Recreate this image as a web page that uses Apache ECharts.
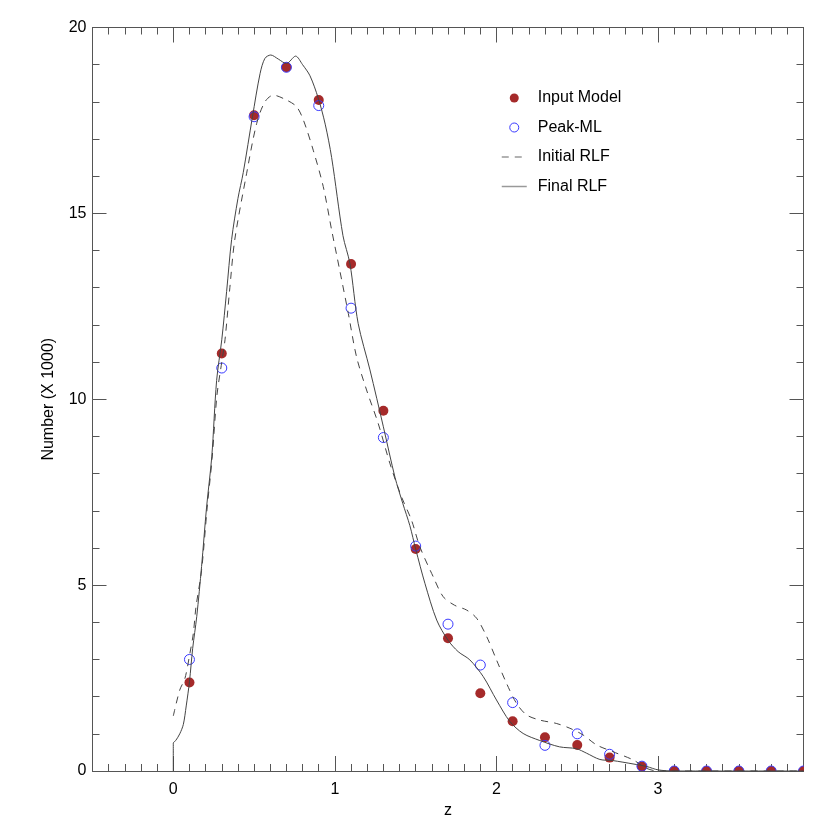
<!DOCTYPE html>
<html>
<head>
<meta charset="utf-8">
<script src="https://cdn.jsdelivr.net/npm/echarts@6/dist/echarts.min.js"></script>
<style>
  html, body { margin: 0; padding: 0; background: #fff; }
  #main { width: 830px; height: 830px; }
</style>
</head>
<body>
<div id="main"></div>
<script>
    var myChart = echarts.init(document.getElementById('main'));

    // redshift bins of the points
    var zBins = [0.1, 0.3, 0.5, 0.7, 0.9, 1.1, 1.3, 1.5, 1.7, 1.9, 2.1, 2.3, 2.5, 2.7, 2.9, 3.1, 3.3, 3.5, 3.7, 3.9];

    // Input Model (filled dots)
    var inputModel = [2.38, 11.23, 17.64, 18.93, 18.05, 13.64, 9.69, 5.97, 3.57, 2.09, 1.34, 0.91, 0.70, 0.36, 0.12, 0, 0, 0, 0, 0];

    // Peak-ML (open circles)
    var peakML = [3.0, 10.84, 17.6, 18.93, 17.9, 12.45, 8.97, 6.05, 3.95, 2.85, 1.84, 0.69, 1.0, 0.45, 0.13, 0, 0, 0, 0, 0];

    // Initial RLF (dashed)
    var initialRlf = [
        [0, 1.48], [0.04, 2.18], [0.072, 2.49], [0.103, 3.17], [0.124, 3.7], [0.14, 4.4],
        [0.175, 5.4], [0.21, 7.1], [0.24, 8.4], [0.27, 10.1], [0.3, 11.0], [0.32, 11.6],
        [0.35, 13.0], [0.38, 14.28], [0.454, 16.08], [0.516, 17.42], [0.567, 18.0],
        [0.619, 18.18], [0.70, 18.05], [0.763, 17.87], [0.805, 17.51], [0.866, 16.70],
        [0.928, 15.72], [0.98, 14.55], [1.03, 13.47], [1.083, 12.31], [1.134, 11.14],
        [1.196, 10.25], [1.268, 9.35], [1.34, 8.28], [1.41, 7.4], [1.474, 6.75],
        [1.526, 6.03], [1.608, 5.23], [1.67, 4.69], [1.74, 4.46], [1.815, 4.33],
        [1.877, 4.11], [1.94, 3.61], [2.0, 2.99], [2.062, 2.36], [2.124, 1.82],
        [2.186, 1.51], [2.268, 1.37], [2.37, 1.28], [2.454, 1.15], [2.536, 0.97],
        [2.62, 0.70], [2.72, 0.52], [2.845, 0.30], [2.93, 0.07], [3.0, 0], [3.9, 0]
    ];

    // Final RLF (solid)
    var finalRlf = [
        [0, 0], [0, 0.75], [0.015, 0.82], [0.04, 1.0], [0.062, 1.25], [0.08, 1.75],
        [0.1, 2.4], [0.12, 3.3], [0.145, 4.15], [0.175, 5.5], [0.206, 7.1], [0.238, 8.45],
        [0.268, 10.5], [0.3, 11.6], [0.33, 12.9], [0.361, 14.3], [0.40, 15.4], [0.433, 16.1],
        [0.49, 17.6], [0.537, 18.76], [0.567, 19.17], [0.603, 19.26], [0.65, 19.15],
        [0.70, 19.03], [0.757, 19.23], [0.80, 19.0], [0.846, 18.7], [0.897, 18.1],
        [0.94, 17.4], [0.98, 16.5], [1.05, 14.4], [1.093, 13.65], [1.144, 12.04],
        [1.217, 10.79], [1.30, 9.26], [1.372, 7.9], [1.42, 7.2], [1.464, 6.6],
        [1.5, 5.97], [1.557, 5.05], [1.63, 4.06], [1.70, 3.52], [1.763, 3.21],
        [1.835, 2.99], [1.918, 2.54], [2.0, 1.91], [2.083, 1.33], [2.165, 1.01],
        [2.268, 0.82], [2.39, 0.65], [2.495, 0.60], [2.557, 0.48], [2.64, 0.31],
        [2.72, 0.28], [2.845, 0.19], [2.93, 0.12], [3.0, 0.03], [3.1, 0], [3.9, 0]
    ];

    // tick marks
    var xMajorTicks = [0, 1, 2, 3];

    var FONT = 'Liberation Sans';
    var AXIS_COLOR = '#555';

    function pairs(values) {
        return zBins.map(function (z, i) { return [z, values[i]]; });
    }

    // point marker drawn by custom series so it gets clipped at the frame
    function dotRenderer(fill, stroke) {
        return function (params, api) {
            var p = api.coord([api.value(0), api.value(1)]);
            return {
                type: 'circle',
                shape: { cx: p[0], cy: p[1], r: 5 },
                style: { fill: fill, stroke: stroke, lineWidth: 1 }
            };
        };
    }

    function xAxisDef(pos, major) {
        return {
            type: 'value',
            position: pos,
            min: -0.5,
            max: 3.9,
            interval: major ? undefined : 0.1,
            axisLine: { show: major, onZero: false, lineStyle: { color: AXIS_COLOR, width: 1 } },
            axisTick: major
                ? { show: true, inside: true, length: 15, customValues: xMajorTicks, lineStyle: { color: AXIS_COLOR } }
                : { show: true, inside: true, length: 7, lineStyle: { color: AXIS_COLOR } },
            axisLabel: (major && pos === 'bottom')
                ? { show: true, customValues: xMajorTicks, margin: 11, color: '#000', fontSize: 16, fontFamily: FONT }
                : { show: false },
            splitLine: { show: false },
            name: (major && pos === 'bottom') ? 'z' : '',
            nameLocation: 'middle',
            nameGap: 29,
            nameTextStyle: { color: '#000', fontSize: 16, fontFamily: FONT }
        };
    }

    function yAxisDef(pos) {
        return {
            type: 'value',
            position: pos,
            min: 0,
            max: 20,
            interval: 5,
            axisLine: { show: true, onZero: false, lineStyle: { color: AXIS_COLOR, width: 1 } },
            axisTick: { show: true, inside: true, length: 14, lineStyle: { color: AXIS_COLOR } },
            minorTick: { show: true, splitNumber: 5, length: 7, lineStyle: { color: AXIS_COLOR } },
            axisLabel: pos === 'left'
                ? { show: true, margin: 6, color: '#000', fontSize: 16, fontFamily: FONT }
                : { show: false },
            splitLine: { show: false },
            minorSplitLine: { show: false },
            name: pos === 'left' ? 'Number (X 1000)' : '',
            nameLocation: 'middle',
            nameGap: 36,
            nameTextStyle: { color: '#000', fontSize: 16, fontFamily: FONT }
        };
    }

    var option = {
        backgroundColor: '#fff',
        animation: false,
        grid: { left: 92.5, right: 26.5, top: 27.5, bottom: 59 },
        legend: {
            orient: 'vertical',
            left: 496,
            top: 84,
            itemWidth: 25,
            itemHeight: 9,
            itemGap: 11.5,
            textStyle: { color: '#000', fontSize: 16, fontFamily: FONT, lineHeight: 18, padding: [0, 0, 0, 6] },
            data: [
                { name: 'Input Model', icon: 'circle', itemStyle: { color: '#a52a2a' } },
                { name: 'Peak-ML', icon: 'circle', itemStyle: { color: '#fff', borderColor: '#3a3aff', borderWidth: 1 } },
                { name: 'Initial RLF', itemStyle: { opacity: 0 }, lineStyle: { color: '#999', width: 1.5 } },
                { name: 'Final RLF', itemStyle: { opacity: 0 }, lineStyle: { color: '#999', width: 1.5 } }
            ]
        },
        xAxis: [xAxisDef('bottom', true), xAxisDef('bottom', false), xAxisDef('top', true), xAxisDef('top', false)],
        yAxis: [yAxisDef('left'), yAxisDef('right')],
        series: [
            {
                name: 'Input Model',
                type: 'custom',
                clip: true,
                z: 2,
                itemStyle: { color: '#a52a2a' },
                encode: { x: 0, y: 1 },
                renderItem: dotRenderer('#a52a2a', null),
                data: pairs(inputModel)
            },
            {
                name: 'Peak-ML',
                type: 'custom',
                clip: true,
                z: 2,
                itemStyle: { color: '#3a3aff' },
                encode: { x: 0, y: 1 },
                renderItem: dotRenderer('none', '#3a3aff'),
                data: pairs(peakML)
            },
            {
                name: 'Initial RLF',
                type: 'line',
                z: 3,
                symbol: 'none',
                smooth: 0.3,
                clip: true,
                itemStyle: { color: '#444' },
                lineStyle: { color: '#444', width: 1, type: [7, 6] },
                data: initialRlf
            },
            {
                name: 'Final RLF',
                type: 'line',
                z: 3,
                symbol: 'none',
                smooth: 0.3,
                clip: true,
                itemStyle: { color: '#444' },
                lineStyle: { color: '#444', width: 1 },
                data: finalRlf
            }
        ]
    };

    myChart.setOption(option);
</script>
</body>
</html>
